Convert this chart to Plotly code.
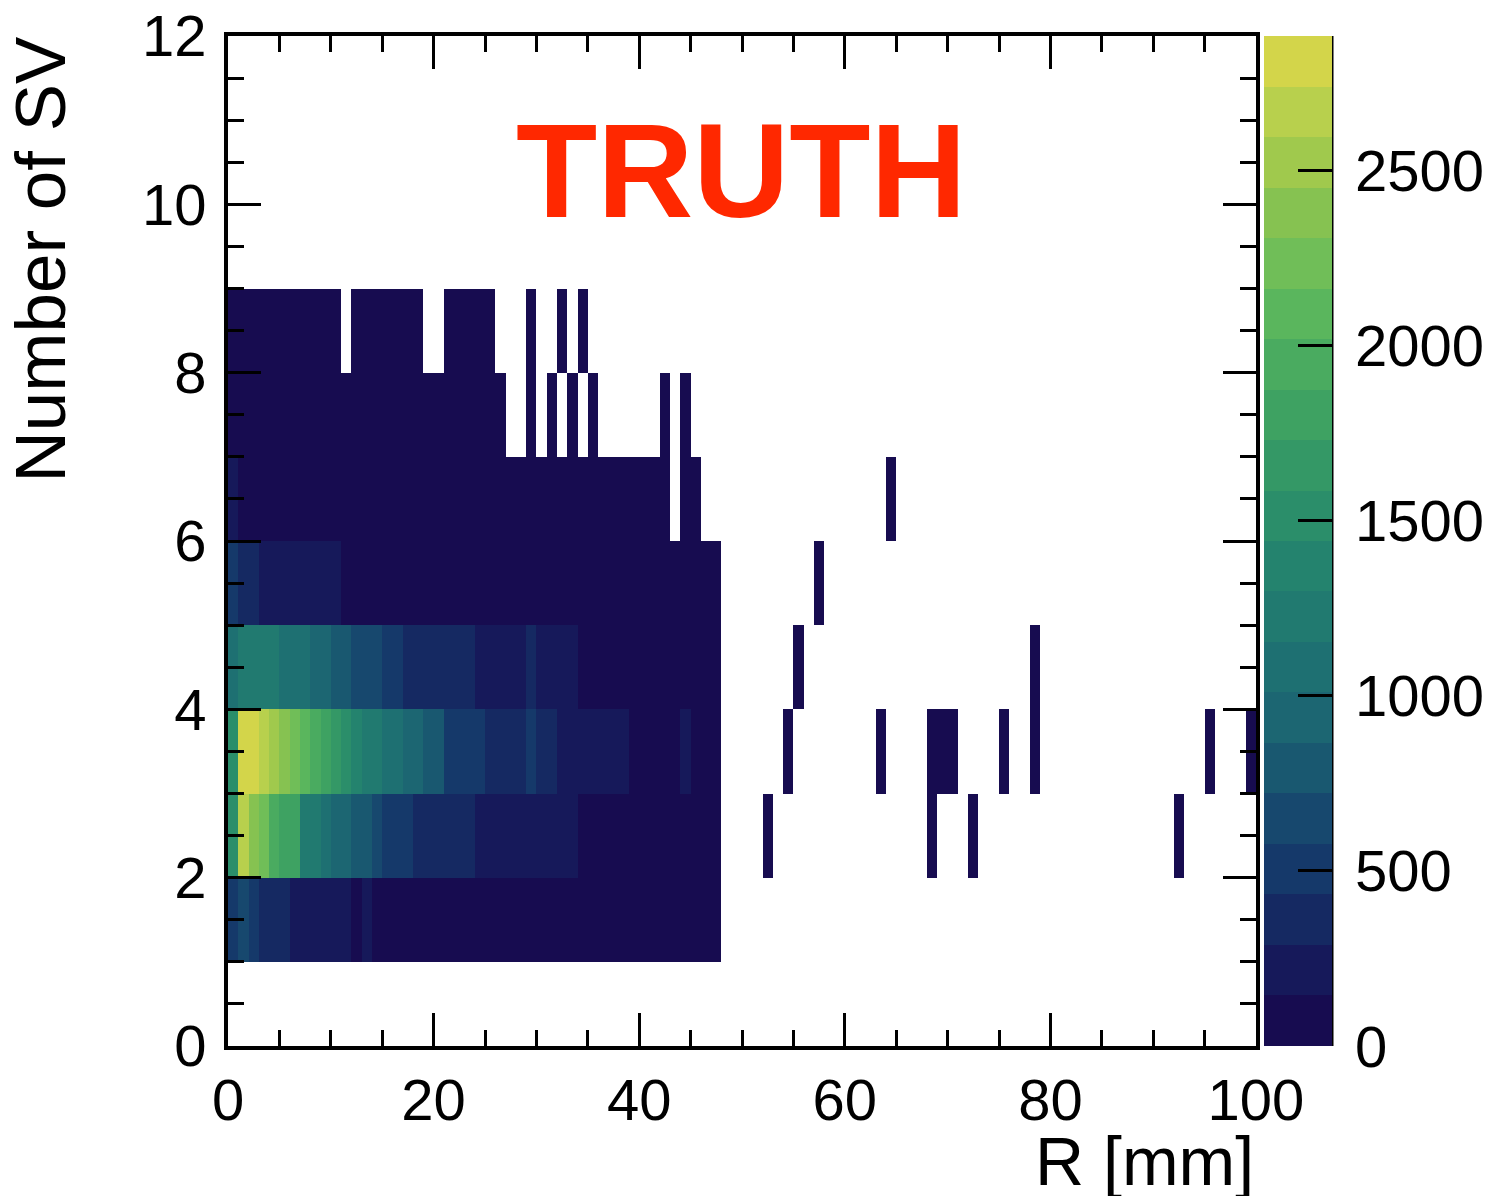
import plotly.graph_objects as go

# ---------------- data ----------------
r_edges = list(range(0, 101))      # R [mm] bin edges (1 mm bins)
nsv_edges = list(range(0, 13))     # Number of SV bin edges

# counts for R bins 0..47 mm, one list per Number-of-SV bin (None = empty)
nsv1 = [512, 640, 540, 410, 385, 350, 270, 255, 240, 230, 215, 200, 138, 152,
        135, 130, 126, 121, 117, 112, 108, 104, 100, 96, 92, 88, 84, 80, 77, 74,
        70, 67, 64, 61, 58, 55, 52, 49, 46, 43, 40, 37, 34, 31, 28, 25, 22, 18]
nsv2 = [1520, 2650, 2380, 2210, 1960, 1840, 1760, 1290, 1200, 1100, 990, 900,
        820, 750, 650, 560, 520, 470, 420, 400, 380, 350, 330, 300, 280, 270,
        255, 240, 230, 215, 200, 185, 170, 155, 140, 130, 120, 110, 100, 90, 82,
        74, 66, 58, 50, 42, 34, 26]
nsv3 = [1500, 2884, 2790, 2660, 2520, 2380, 2240, 2090, 1950, 1800, 1660, 1520,
        1380, 1270, 1190, 1110, 1030, 960, 890, 810, 740, 570, 540, 510, 470,
        420, 390, 360, 320, 450, 340, 300, 280, 265, 250, 230, 210, 190, 160,
        135, 120, 105, 95, 80, 150, 70, 55, 40]
nsv4 = [1090, 1250, 1280, 1240, 1200, 1140, 1090, 1030, 970, 900, 830, 760, 700,
        650, 600, 540, 470, 420, 400, 380, 360, 340, 320, 300, 280, 260, 240,
        220, 200, 295, 190, 175, 160, 148, 135, 125, 115, 105, 95, 85, 75, 66,
        57, 48, 40, 32, 25, 18]
nsv5 = [480, 380, 320, 280, 260, 240, 225, 210, 190, 170, 150,
        138, 128, 118, 110, 102, 95, 88, 81, 75, 69, 63, 58, 53, 48, 44, 40, 36,
        32, 29, 26, 23, 20, 18, 16, 14, 12, 10, 9, 8, 7, 6, 5, 4, 4, 3, 2, 2]
nsv6 = [160, 120, 110, 100, 92, 85, 78, 72, 66, 61, 56, 52, 48, 44, 40, 37, 34,
        31, 28, 26, 24, 22, 20, 18, 16, 15, 14, 12, 11, 10, 9, 8, 7, 6, 6, 5, 4,
        4, 3, 3, 2, 2, 1, None, 1, 1, None, None]
nsv7 = [60, 55, 50, 46, 42, 38, 35, 32, 29, 26, 24, 22, 20, 18, 16, 14, 12, 11,
        10, 9, 8, 7, 6, 5, 4, 3, 2, None, None, 1, None, 1, None, 1, None, 1,
        None, None, None, None, None, None, 1, None, 1, None, None, None]
nsv8 = [20, 18, 16, 14, 12, 10, 9, 8, 7, 6, 5, None, 5, 4, 4, 3, 3, 2, 2, None,
        None, 2, 2, 1, 1, 1, None, None, None, 1, None, None, 1, None, 1, None,
        None, None, None, None, None, None, None, None, None, None, None, None]

# isolated entries at large R
sparse_r = [52, 68, 72, 92, 54, 63, 68, 69, 70, 75, 78, 95, 99, 55, 78, 57, 64]
sparse_nsv = [2, 2, 2, 2, 3, 3, 3, 3, 3, 3, 3, 3, 3, 4, 4, 5, 6]
sparse_count = [1, 2, 1, 1, 1, 1, 3, 2, 1, 1, 1, 1, 1, 1, 1, 1, 1]

z_max = 2884
cb_ticks = [0, 500, 1000, 1500, 2000, 2500]

# ---------------- build matrix ----------------
n_r = len(r_edges) - 1
n_y = len(nsv_edges) - 1
z = [[None] * n_r for _ in range(n_y)]
for iy, row in zip(range(1, 9), [nsv1, nsv2, nsv3, nsv4, nsv5, nsv6, nsv7, nsv8]):
    for ix, v in enumerate(row):
        z[iy][ix] = v
for rx, ny, c in zip(sparse_r, sparse_nsv, sparse_count):
    z[ny][rx] = c

band_colors = ["#170c50", "#16195a", "#152962", "#15396a", "#17486e", "#195870",
               "#1c6672", "#1e7072", "#217a70", "#24836e", "#2b8e6a", "#349866",
               "#3ea262", "#4aab60", "#5ab65d", "#70be58", "#86c251", "#a0c94d",
               "#b8d04d", "#d3d54a"]
nb = len(band_colors)
cscale = []
for i, c in enumerate(band_colors):
    cscale.append([i / nb, c])
    cscale.append([(i + 1) / nb, c])

FONT = "Liberation Sans, Arial, Helvetica, sans-serif"
TICKSIZE = 58

L, R, T, B = 228, 254, 36, 150
W, H = 1510, 1196
pw, ph = W - L - R, H - T - B

fig = go.Figure(go.Heatmap(
    x=r_edges, y=nsv_edges, z=z,
    zmin=0, zmax=z_max, colorscale=cscale,
    hoverongaps=False,
    colorbar=dict(
        x=1 + (1264 - (W - R)) / pw, xanchor="left", xpad=0,
        y=0.5, yanchor="middle", ypad=0,
        len=1, lenmode="fraction", thickness=68,
        outlinewidth=0,
        tickmode="array", tickvals=cb_ticks,
        ticks="inside", ticklen=34, tickwidth=3, tickcolor="black",
        showticklabels=False,
    ),
))

fig.update_layout(
    width=W, height=H,
    margin=dict(l=L, r=R, t=T, b=B, pad=0, autoexpand=False),
    paper_bgcolor="white", plot_bgcolor="white",
    font=dict(family=FONT, color="black"),
    showlegend=False,
)
axis_common = dict(
    showgrid=False, zeroline=False, showline=True, linecolor="black",
    linewidth=4, mirror="allticks", ticks="inside", tickcolor="black",
    tickwidth=3, ticklen=33, tickfont=dict(family=FONT, size=TICKSIZE, color="black"),
)
fig.update_xaxes(range=[0, 100], tick0=0, dtick=20,
                 minor=dict(ticks="inside", ticklen=16, tickwidth=3,
                            tickcolor="black", dtick=5, tick0=0),
                 ticklabelstandoff=0, **axis_common)
fig.update_yaxes(range=[0, 12], tick0=0, dtick=2,
                 minor=dict(ticks="inside", ticklen=16, tickwidth=3,
                            tickcolor="black", dtick=0.5, tick0=0),
                 ticklabelstandoff=6, **axis_common)

# right edge line of the colour bar
cb_right = (1332 - L) / pw
fig.add_shape(type="line", xref="paper", yref="paper",
              x0=cb_right, x1=cb_right, y0=0, y1=1,
              line=dict(color="black", width=3))

# colour bar labels
for t in cb_ticks:
    fig.add_annotation(text=str(t), xref="paper", yref="paper",
                       x=(1353 - L) / pw, y=t / z_max,
                       xanchor="left", yanchor="middle", showarrow=False,
                       font=dict(family=FONT, size=TICKSIZE, color="black"))

fig.add_annotation(text="TRUTH", xref="paper", yref="paper",
                   x=(741 - L) / pw, y=(H - B - 171) / ph,
                   xanchor="center", yanchor="middle", showarrow=False,
                   font=dict(family=FONT, size=133, color="#ff2800", weight="bold"))
fig.add_annotation(text="Number of SV", xref="paper", yref="paper",
                   x=(40 - L) / pw, y=1 - (34 - T) / ph,
                   xanchor="center", yanchor="top", textangle=-90,
                   showarrow=False, font=dict(family=FONT, size=71, color="black"))
fig.add_annotation(text="R [mm]", xref="paper", yref="paper",
                   x=1, y=(H - B - 1161) / ph,
                   xanchor="right", yanchor="middle",
                   showarrow=False, font=dict(family=FONT, size=68, color="black"))

fig.write_html("out.html")
